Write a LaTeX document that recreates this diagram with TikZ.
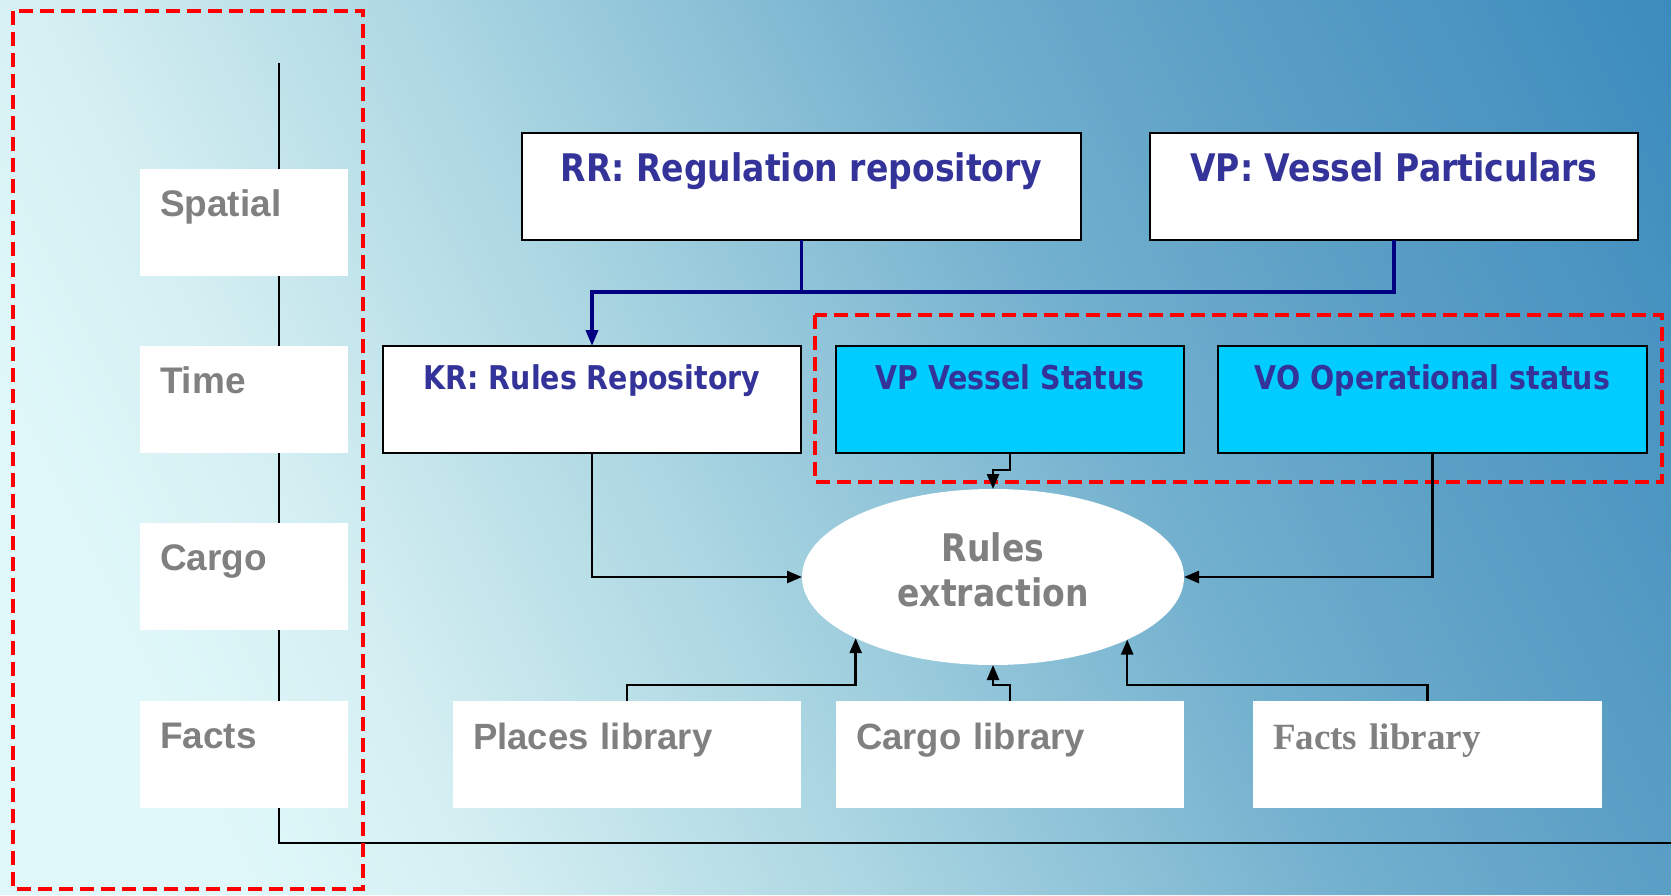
\documentclass[tikz,border=0pt]{standalone}
\usepackage{fontspec}
\usetikzlibrary{arrows.meta,positioning,shapes.geometric}
\newfontfamily\tahomafont[FakeStretch=0.87]{DejaVu Sans}
\newfontfamily\arialfont{Liberation Sans}
\newfontfamily\timesfont{Liberation Serif}
\definecolor{bg-a}{RGB}{224,248,250}
\definecolor{bg-b}{RGB}{212,239,242}
\definecolor{bg-c}{RGB}{171,214,226}
\definecolor{bg-d}{RGB}{114,176,206}
\definecolor{bg-e}{RGB}{93,160,198}
\definecolor{bg-f}{RGB}{62,141,190}
\definecolor{bg-g}{RGB}{60,139,189}
\definecolor{navyline}{HTML}{000080}
\definecolor{textblue}{HTML}{333399}
\definecolor{textgray}{HTML}{808080}
\definecolor{statuscyan}{HTML}{00CCFF}
\pgfdeclarehorizontalshading{slide-bg}{100bp}{color(0bp)=(bg-a); color(25bp)=(bg-a); color(30.89bp)=(bg-a);
  color(36.79bp)=(bg-b); color(45.74bp)=(bg-c); color(57.06bp)=(bg-d); color(63.78bp)=(bg-e);
  color(74.03bp)=(bg-f); color(75bp)=(bg-g); color(100bp)=(bg-g)}
\tikzset{
    repo-box/.style = {draw=black, line width=2.5pt, fill=white, rectangle, inner sep=0pt, outer sep=0pt, text=textblue, anchor=north west},
    repo-top/.style = {repo-box, font=\tahomafont\bfseries\fontsize{38}{44}\selectfont, text height=48pt, text depth=59pt},
    repo-mid/.style = {repo-box, font=\tahomafont\bfseries\fontsize{32.7}{40}\selectfont, text height=43pt, text depth=64pt},
    status-box/.style = {repo-mid, fill=statuscyan},
    plain-box/.style = {fill=white, rectangle, inner ysep=0pt, inner xsep=20pt, outer sep=0pt, text=textgray, anchor=north west, align=left},
    axis-box/.style = {plain-box, text width=168pt, text height=47pt, text depth=60pt, font=\arialfont\bfseries\fontsize{37}{44}\selectfont},
    lib-box/.style = {plain-box, text height=48pt, text depth=59pt, font=\arialfont\bfseries\fontsize{36.5}{44}\selectfont},
    extract-node/.style = {ellipse, fill=white, inner sep=0pt, outer sep=0pt, minimum width=382pt, minimum height=176pt, align=center, text=textgray, text depth=14pt, font=\tahomafont\bfseries\fontsize{38}{45}\selectfont},
    group-frame/.style = {draw=red, line width=3.5pt, dash pattern=on 14pt off 7pt},
    axis-line/.style = {draw=black, line width=2.2pt},
    bus/.style = {draw=navyline, line width=3.5pt, -{Triangle[length=16pt,width=12pt]}},
    link/.style = {draw=black, line width=2.5pt, -{Triangle[length=15pt,width=12pt]}},
}
\begin{document}
\begin{tikzpicture}[x=1pt, y=-1pt]
\useasboundingbox (0,0) rectangle (1671,895);
% background, slanted gradient
\begin{scope}
\clip (0,0) rectangle (1671,895);
\shade[shading=slide-bg, transform canvas={xslant=-0.5}] (-450,0) rectangle (1671,895);
\end{scope}

% dimension axis
\coordinate (axis-top) at (279,63);
\coordinate (axis-corner) at (279,843);
\coordinate (axis-end) at (1671,843);
\draw[axis-line] (axis-top) -- (axis-corner) -- (axis-end);

% dashed groups
\draw[group-frame] (13,11) rectangle (363,889);
\draw[group-frame] (815,315) rectangle (1662,482);

% dimensions
\node[axis-box] (spatial) at (140,169) {Spatial};
\node[axis-box, below=70pt of spatial] (time) {Time};
\node[axis-box, below=70pt of time] (cargo-dim) {Cargo};
\node[axis-box, below=71pt of cargo-dim] (facts-dim) {Facts};

% repositories
\node[repo-top, minimum width=559pt] (rr) at (522,133) {RR: Regulation repository};
\node[repo-top, minimum width=488pt, right=69pt of rr] (vp) {VP: Vessel Particulars};
\node[repo-mid, minimum width=418pt] (kr) at (383,346) {KR: Rules Repository};
\node[status-box, minimum width=348pt, right=35pt of kr] (vps) {VP Vessel Status};
\node[status-box, minimum width=429pt, right=34pt of vps] (vo) {VO Operational status};

\node[extract-node] (ex) at (993,577) {Rules\\extraction};

% libraries
\node[lib-box, text width=308pt] (places) at (453,701) {Places library};
\node[lib-box, text width=308pt, right=35pt of places] (cargo) {Cargo library};
\node[lib-box, text width=309pt, right=69pt of cargo, font=\timesfont\bfseries\fontsize{37}{44}\selectfont] (facts) {Facts library};

% connectors
\coordinate (split) at ([yshift=-52pt]rr.south);
\draw[bus] (rr.south) -- (split) -| (kr.north);
\draw[bus, -] (vp.south) |- (split);
\draw[link] (kr.south) |- (ex.west);
\draw[link] (vo.south) |- (ex.east);
\draw[link] (vps.south) -- ++(0,-17pt) -| (ex.north);
\draw[link] (places.north) -- ++(0,16pt) -| (ex.204.5);
\draw[link] (cargo.north) -- ++(0,16pt) -| (ex.south);
\draw[link] (facts.north) -- ++(0,16pt) -| (ex.335.5);
\end{tikzpicture}
\end{document}
